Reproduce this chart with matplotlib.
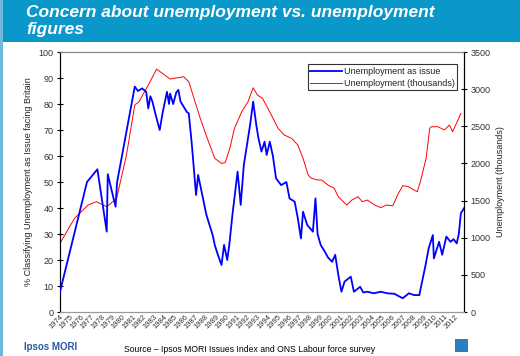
import matplotlib
matplotlib.use("Agg")
import matplotlib.pyplot as plt
from matplotlib.patches import Rectangle

plt.rcParams['font.family'] = ['Liberation Sans', 'DejaVu Sans']

title_lines = ["Concern about unemployment vs. unemployment", "figures"]
left_label = "% Classifying Unemployment as Issue facing Britain"
right_label = "Unemployment (thousands)"
source = "Source \u2013 Ipsos MORI Issues Index and ONS Labour force survey"
brand = "Ipsos MORI"
series_names = ["Unemployment as issue", "Unemployment (thousands)"]

tick_years = list(range(1974, 2013))
left_ticks = list(range(0, 101, 10))
right_ticks = list(range(0, 3501, 500))

issue_years = [1974.0, 1976.6, 1977.6, 1978.5, 1978.6, 1979.35, 1979.5, 1981.2, 1981.5, 1981.9,
               1982.3, 1982.5, 1982.7, 1982.9, 1983.2, 1983.6, 1983.9, 1984.3, 1984.5, 1984.6,
               1984.9, 1985.2, 1985.4, 1985.6, 1985.9, 1986.2, 1986.4, 1986.7, 1987.1, 1987.3,
               1988.1, 1988.7, 1988.9, 1989.2, 1989.55, 1989.8, 1990.1, 1990.3, 1990.6, 1991.1,
               1991.4, 1991.7, 1992.0, 1992.3, 1992.6, 1992.9, 1993.1, 1993.4, 1993.7, 1993.9,
               1994.2, 1994.5, 1994.8, 1995.3, 1995.8, 1996.1, 1996.6, 1996.9, 1997.2, 1997.4,
               1997.8, 1998.35, 1998.6, 1998.8, 1999.1, 1999.5, 1999.8, 2000.2, 2000.5, 2000.8,
               2001.1, 2001.4, 2002.0, 2002.3, 2002.9, 2003.2, 2003.6, 2004.2, 2004.9, 2005.5,
               2006.2, 2006.7, 2007.0, 2007.6, 2008.1, 2008.6, 2008.8, 2009.2, 2009.5, 2009.9,
               2010.0, 2010.5, 2010.8, 2011.2, 2011.6, 2011.9, 2012.2, 2012.4, 2012.6, 2012.9]
issue_values = [7.8, 50, 54.9, 30.9, 53, 40.5, 50, 86.7, 85, 86,
                84.7, 78.3, 83, 80.9, 76, 70, 77, 84.7, 80, 84,
                80, 84.5, 85.4, 81, 79, 77, 76.4, 64.2, 45, 52.7,
                37.3, 29.6, 25.8, 22, 18.1, 25.8, 20, 25.8, 37.3, 54,
                41.2, 56.5, 64.2, 71.9, 80.9, 71.9, 67, 61.7, 65.5, 60.4,
                65.5, 60, 51.4, 48.8, 50, 43.7, 42.4, 36, 28.3, 38.6,
                33.5, 30.9, 43.7, 30, 25.8, 23.2, 21, 19.3, 22, 14.2,
                7.8, 11.7, 13.6, 7.8, 9.7, 7.5, 7.8, 7.2, 7.8, 7.2,
                7.0, 5.9, 5.3, 7.2, 6.5, 6.5, 10.4, 18.1, 24.5, 29.6,
                20.6, 27, 22, 29, 27, 28, 26.4, 30, 38, 39.9]

unemp_years = [1974.0, 1975.4, 1976.7, 1977.5, 1978.5, 1979.45, 1980.4, 1981.2, 1981.6, 1982.5,
               1983.3, 1984.6, 1985.9, 1986.4, 1986.8, 1987.5, 1988.3, 1988.9, 1989.55, 1989.9,
               1990.35, 1990.8, 1991.5, 1992.1, 1992.6, 1993.0, 1993.5, 1994.35, 1995.0, 1995.6,
               1996.3, 1996.9, 1997.4, 1997.9, 1998.2, 1998.8, 1999.2, 1999.8, 2000.4, 2000.8,
               2001.6, 2002.1, 2002.7, 2003.1, 2003.6, 2004.3, 2004.9, 2005.4, 2006.05, 2006.5,
               2007.0, 2007.5, 2008.1, 2008.4, 2008.7, 2009.25, 2009.6, 2009.75, 2010.4, 2011.0,
               2011.5, 2011.8, 2012.1, 2012.6]
unemp_values = [925, 1261, 1440, 1485, 1417, 1530, 2113, 2786, 2830, 3055,
                3270, 3136, 3167, 3100, 2921, 2607, 2292, 2069, 2001, 2010,
                2203, 2472, 2696, 2830, 3019, 2921, 2876, 2652, 2472, 2382,
                2338, 2248, 2069, 1844, 1800, 1777, 1777, 1709, 1665, 1552,
                1440, 1507, 1552, 1485, 1507, 1440, 1404, 1440, 1431, 1575,
                1700, 1690, 1642, 1619, 1754, 2069, 2472, 2494, 2494, 2450,
                2517, 2427, 2517, 2674]

fig = plt.figure(figsize=(5.2, 3.56), dpi=100)
fig.patch.set_facecolor('white')

# banner
fig.patches.append(Rectangle((0, 1 - 42 / 356), 1, 42 / 356, transform=fig.transFigure,
                             facecolor='#0a98cb', edgecolor='none', zorder=0))
fig.patches.append(Rectangle((0, 0), 3 / 520, 1, transform=fig.transFigure,
                             facecolor='#6fb8dc', edgecolor='none', zorder=0))
fig.text(26 / 520, 1 - 16.5 / 356, title_lines[0], color='white', fontsize=12.5,
         fontweight='bold', fontstyle='italic', va='baseline', ha='left')
fig.text(26 / 520, 1 - 34 / 356, title_lines[1], color='white', fontsize=12.5,
         fontweight='bold', fontstyle='italic', va='baseline', ha='left')

ax = fig.add_axes([60 / 520, 1 - 312 / 356, 404 / 520, 260 / 356])
ax2 = ax.twinx()

l1, = ax.plot(issue_years, issue_values, color='#0000ff', lw=1.3, zorder=3)
l2, = ax2.plot(unemp_years, unemp_values, color='#ff0000', lw=0.7)
ax.set_zorder(ax2.get_zorder() + 1)
ax.patch.set_visible(False)

ax.set_xlim(1974, 2012.9)
ax.set_ylim(0, 100)
ax2.set_ylim(0, 3500)
ax.set_yticks(left_ticks)
ax2.set_yticks(right_ticks)
ax.set_xticks(tick_years)
ax.set_xticklabels([str(y) for y in tick_years], rotation=45, ha='right',
                   rotation_mode='anchor', fontsize=5.5, color='#333333')
ax.tick_params(axis='y', direction='inout', length=5, width=0.8, labelsize=6.5,
               labelcolor='#333333', pad=2)
ax2.tick_params(axis='y', direction='inout', length=5, width=0.8, labelsize=6.5,
                labelcolor='#333333', pad=2)
ax.tick_params(axis='x', length=0, pad=1)

for a in (ax, ax2):
    a.spines['top'].set_color('#888888')
    a.spines['top'].set_linestyle((0, (1, 1)))
    a.spines['bottom'].set_color('#999999')
    a.spines['left'].set_color('black')
    a.spines['right'].set_color('black')
    for s in a.spines.values():
        s.set_linewidth(0.8)

ax.set_ylabel(left_label, fontsize=6.5, color='#222222', labelpad=4)
ax2.set_ylabel(right_label, fontsize=6.5, color='#222222', labelpad=4)

leg = ax.legend([l1, l2], series_names, loc='upper right', bbox_to_anchor=(0.995, 0.97),
                fontsize=6.5, frameon=True, fancybox=False, handlelength=3.5,
                handletextpad=0.2, borderpad=0.3, labelspacing=0.3)
leg.get_frame().set_edgecolor('black')
leg.get_frame().set_linewidth(0.8)
for t in leg.get_texts():
    t.set_color('#222222')

fig.text(24 / 520, 1 - 347 / 356, brand, color='#2a5aa0', fontsize=7, fontweight='bold',
         va='center', ha='left')
fig.text(250 / 520, 1 - 349 / 356, source, color='black', fontsize=6.2,
         va='center', ha='center')
fig.patches.append(Rectangle((455 / 520, 1 - 352 / 356), 13 / 520, 13 / 356,
                             transform=fig.transFigure, facecolor='#2a7fc0',
                             edgecolor='none'))

fig.savefig('out.png', dpi=100, facecolor=fig.get_facecolor())
